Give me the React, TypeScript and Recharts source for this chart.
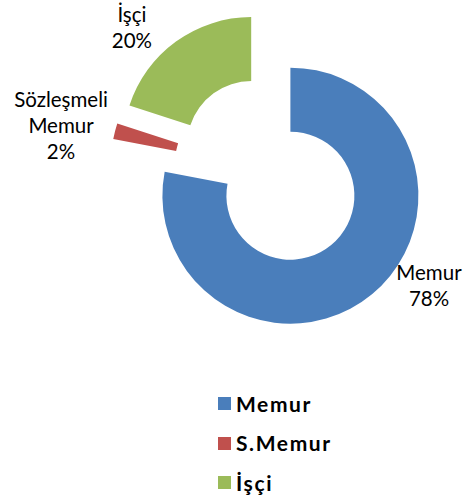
import { PieChart, Pie, Cell, Legend, Sector } from "recharts";

const categories = ["Memur", "S.Memur", "İşçi"];
const sliceLabels = [["Memur"], ["Sözleşmeli", "Memur"], ["İşçi"]];
const shares = [78, 2, 20];
const colors = ["#4A7EBB", "#C0504D", "#9BBB59"];

const data = categories.map((name, i) => ({ name, value: shares[i] }));

const RAD = Math.PI / 180;
const EXPLODE = 32;
// first baseline of each label, relative to the slice's outer midpoint
const labelNudge = [
  [57, -14],
  [-54, -24],
  [-44, -20],
];
const LINE_H = 26;
const labelFont = "Lato, 'Open Sans', sans-serif";

function explodeOffset(midAngle: number) {
  return [Math.cos(-midAngle * RAD) * EXPLODE, Math.sin(-midAngle * RAD) * EXPLODE];
}

function ExplodedSector(props: any) {
  const [dx, dy] = explodeOffset(props.midAngle);
  return (
    <Sector
      cx={props.cx + dx}
      cy={props.cy + dy}
      innerRadius={props.innerRadius}
      outerRadius={props.outerRadius}
      startAngle={props.startAngle}
      endAngle={props.endAngle}
      fill={props.fill}
      stroke="none"
    />
  );
}

function SliceLabel(props: any) {
  const { cx, cy, midAngle, outerRadius, index, percent } = props;
  const [dx, dy] = explodeOffset(midAngle);
  const px = cx + dx + Math.cos(-midAngle * RAD) * outerRadius + labelNudge[index][0];
  const py = cy + dy + Math.sin(-midAngle * RAD) * outerRadius + labelNudge[index][1];
  const lines = [...sliceLabels[index], `${Math.round(percent * 100)}%`];
  return (
    <text x={px} y={py} textAnchor="middle" fill="#000" fontSize={20.5} fontFamily={labelFont}>
      {lines.map((l, i) => (
        <tspan key={i} x={px} dy={i === 0 ? 0 : LINE_H}>
          {l}
        </tspan>
      ))}
    </text>
  );
}

function LegendList() {
  return (
    <div style={{ fontFamily: labelFont }}>
      {categories.map((c, i) => (
        <div key={c} style={{ display: "flex", alignItems: "center", height: 39.5 }}>
          <span style={{ width: 13, height: 13, background: colors[i], marginRight: 5 }} />
          <span style={{ fontWeight: 700, fontSize: 21, letterSpacing: 1.6, lineHeight: "20px" }}>{c}</span>
        </div>
      ))}
    </div>
  );
}

export default function App() {
  return (
    <div style={{ position: "absolute", left: 0, top: 0, background: "#fff" }}>
      <PieChart width={472} height={502} margin={{ top: 0, right: 0, bottom: 0, left: 0 }}>
        <Pie
          data={data}
          dataKey="value"
          nameKey="name"
          cx={270}
          cy={171}
          innerRadius={64}
          outerRadius={128}
          startAngle={90}
          endAngle={-270}
          stroke="none"
          shape={ExplodedSector}
          label={SliceLabel}
          labelLine={false}
          isAnimationActive={false}
        >
          {data.map((d, i) => (
            <Cell key={d.name} fill={colors[i]} />
          ))}
        </Pie>
        <Legend
          layout="vertical"
          verticalAlign="bottom"
          content={<LegendList />}
          wrapperStyle={{ position: "absolute", left: 218, top: 384, width: 200, bottom: "auto" }}
        />
      </PieChart>
    </div>
  );
}
